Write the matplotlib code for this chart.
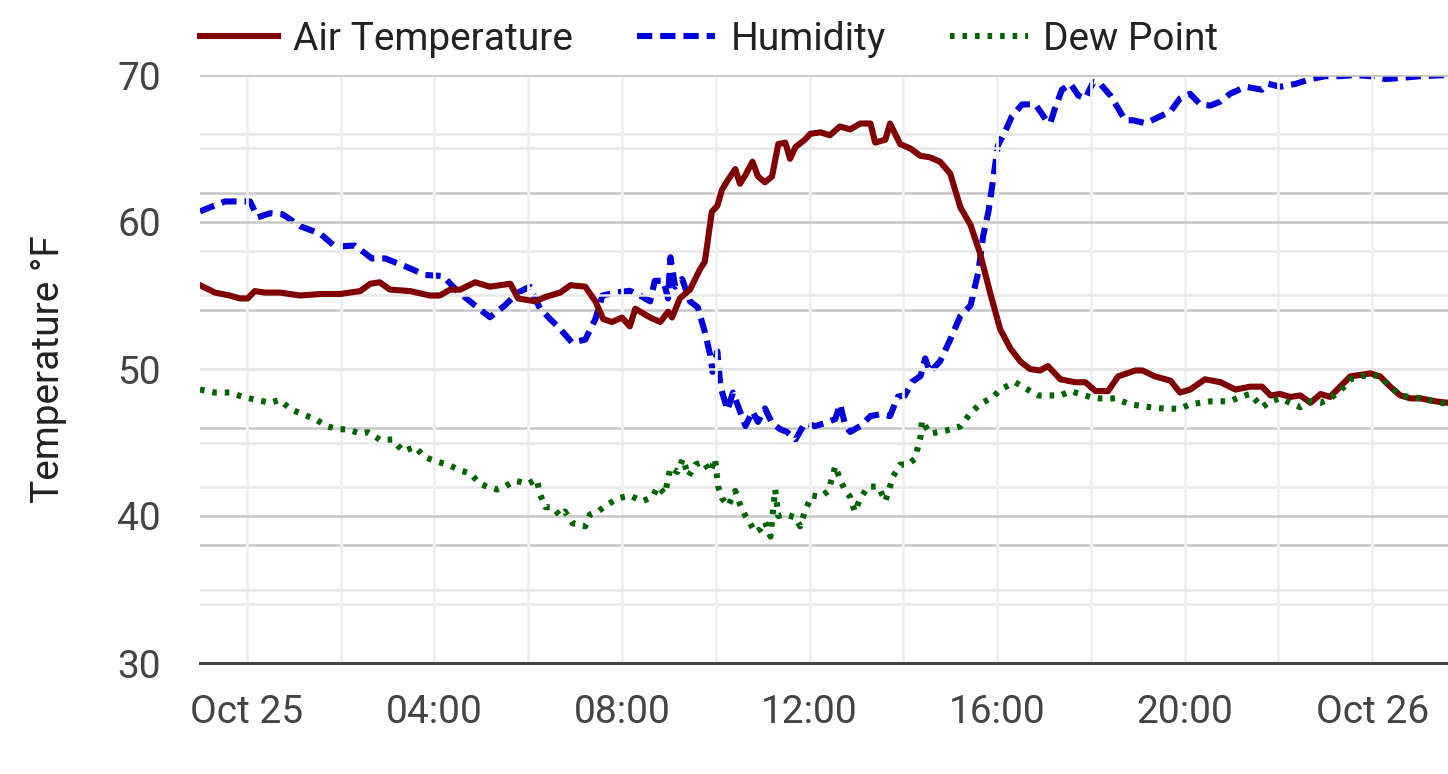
import numpy as np
import matplotlib
matplotlib.use("Agg")
import matplotlib.pyplot as plt
import matplotlib.dates as mdates
from matplotlib.ticker import MultipleLocator, FuncFormatter

plt.rcParams['font.family'] = ['Roboto', 'DejaVu Sans']

START = np.datetime64('2024-10-24T23:00')
END_MIN = 1597

# Air temperature (°F): minutes since start, value
temp_min = [0, 19, 38, 51, 61, 70, 83, 102, 128, 154, 179, 205, 218, 230, 243, 269, 294, 307,
            320, 333, 352, 371, 397, 407, 429, 442, 461, 474, 493, 506, 516, 527, 540, 550,
            557, 576, 589, 599, 604, 614, 627, 640, 646, 655, 662, 668, 676, 685, 691, 698,
            707, 714, 723, 732, 740, 749, 755, 762, 774, 781, 794, 806, 819, 832, 845, 858,
            864, 877, 883, 896, 909, 922, 934, 947, 960, 973, 986, 998, 1011, 1024, 1037,
            1050, 1062, 1075, 1085, 1101, 1120, 1133, 1146, 1162, 1175, 1197, 1206, 1222,
            1242, 1254, 1267, 1286, 1306, 1325, 1344, 1359, 1370, 1382, 1395, 1408, 1421,
            1434, 1446, 1459, 1472, 1485, 1498, 1510, 1523, 1536, 1549, 1562, 1581, 1597]
temp_val = [55.7, 55.2, 55.0, 54.8, 54.8, 55.3, 55.2, 55.2, 55.0, 55.1, 55.1, 55.3, 55.8, 55.9,
            55.4, 55.3, 55.0, 55.0, 55.4, 55.4, 55.9, 55.6, 55.8, 54.8, 54.6, 54.9, 55.2, 55.7,
            55.6, 54.6, 53.4, 53.2, 53.5, 52.9, 54.1, 53.5, 53.2, 53.9, 53.5, 54.8, 55.4, 56.8,
            57.3, 60.7, 61.1, 62.2, 62.9, 63.6, 62.6, 63.2, 64.1, 63.1, 62.7, 63.1, 65.3, 65.4,
            64.3, 65.1, 65.6, 66.0, 66.1, 65.9, 66.5, 66.3, 66.7, 66.7, 65.4, 65.6, 66.7, 65.3,
            65.0, 64.5, 64.4, 64.1, 63.3, 61.0, 59.8, 57.9, 55.2, 52.7, 51.4, 50.5, 50.0, 49.9,
            50.2, 49.3, 49.1, 49.1, 48.5, 48.5, 49.5, 49.9, 49.9, 49.5, 49.2, 48.4, 48.6, 49.3,
            49.1, 48.6, 48.8, 48.8, 48.2, 48.3, 48.1, 48.2, 47.7, 48.3, 48.1, 48.8, 49.5, 49.6,
            49.7, 49.5, 48.8, 48.2, 48.0, 48.0, 47.8, 47.7]

# Relative humidity (%): minutes since start, value
hum_min = [0, 13, 32, 51, 64, 74, 90, 106, 128, 154, 173, 198, 220, 237, 262, 288, 311, 329,
           352, 371, 390, 407, 422, 435, 448, 461, 476, 493, 506, 515, 532, 550, 563, 576, 582,
           593, 599, 602, 608, 617, 627, 637, 646, 653, 656, 662, 666, 675, 682, 691, 698, 707,
           714, 723, 732, 742, 751, 762, 774, 787, 800, 813, 819, 826, 832, 845, 858, 870, 883,
           893, 902, 911, 922, 928, 934, 947, 960, 973, 986, 996, 1002, 1009, 1015, 1021, 1030,
           1039, 1052, 1069, 1082, 1088, 1094, 1103, 1114, 1124, 1133, 1143, 1152, 1165, 1175,
           1184, 1194, 1210, 1226, 1242, 1254, 1267, 1280, 1293, 1306, 1318, 1338, 1359, 1367,
           1382, 1402, 1421, 1440, 1459, 1478, 1498, 1517, 1536, 1562, 1597]
hum_val = [76.8, 77.5, 78.5, 78.5, 78.5, 75.8, 76.5, 76.3, 74.3, 73.0, 70.8, 71.0, 68.8, 68.8,
           67.5, 66.0, 65.8, 63.3, 60.8, 58.8, 60.8, 63.0, 64.0, 60.3, 58.5, 56.8, 54.5, 55.0,
           58.5, 62.5, 63.0, 63.3, 62.5, 61.5, 65.0, 65.0, 62.0, 69.0, 64.0, 65.3, 61.5, 60.5,
           56.3, 52.3, 49.5, 53.0, 47.0, 43.0, 46.0, 42.8, 40.3, 42.8, 41.0, 43.3, 40.8, 39.8,
           39.3, 38.0, 40.8, 40.3, 40.8, 41.5, 44.0, 40.3, 39.3, 40.3, 42.0, 42.3, 42.0, 45.3,
           45.5, 47.8, 48.8, 51.8, 49.5, 51.3, 55.0, 59.0, 60.8, 66.5, 72.5, 76.8, 82.3, 88.0,
           90.3, 93.0, 95.0, 95.0, 92.5, 91.8, 94.3, 97.5, 98.5, 96.5, 96.0, 98.8, 98.5, 96.5,
           94.3, 92.3, 92.3, 91.8, 92.8, 93.8, 96.0, 96.8, 95.0, 94.8, 95.5, 96.8, 98.0, 97.5,
           98.5, 98.0, 98.5, 99.3, 99.8, 99.8, 100.0, 99.8, 99.3, 99.5, 99.8, 100.0]

# Dew point (°F): minutes since start, value
dew_min = [0, 19, 38, 55, 72, 90, 102, 115, 132, 147, 163, 177, 189, 205, 215, 230, 246, 260,
           275, 288, 303, 317, 333, 346, 358, 367, 380, 390, 403, 420, 431, 435, 442, 451, 461,
           467, 477, 493, 499, 509, 522, 535, 550, 566, 579, 586, 595, 602, 611, 618, 625, 634,
           644, 653, 659, 663, 668, 676, 685, 691, 698, 704, 710, 717, 723, 730, 736, 740, 749,
           762, 768, 774, 783, 794, 804, 813, 819, 826, 832, 838, 845, 855, 868, 877, 887, 896,
           906, 915, 922, 924, 934, 954, 973, 986, 998, 1015, 1024, 1043, 1059, 1073, 1101,
           1114, 1126, 1139, 1152, 1171, 1190, 1216, 1235, 1254, 1267, 1293, 1318, 1331, 1344,
           1359, 1370, 1382, 1395, 1408, 1421, 1434, 1446, 1459, 1472, 1485, 1498, 1510, 1523,
           1536, 1562, 1597]
dew_val = [48.6, 48.4, 48.4, 48.1, 47.9, 47.7, 47.9, 47.3, 46.9, 46.6, 46.1, 45.9, 45.9, 45.6,
           45.7, 45.2, 45.2, 44.4, 44.7, 44.0, 43.7, 43.5, 43.1, 42.9, 42.2, 42.0, 41.8, 42.0,
           42.4, 42.2, 42.5, 41.5, 40.6, 40.6, 40.0, 40.3, 39.5, 39.3, 40.1, 40.3, 40.8, 41.2,
           41.4, 41.0, 41.3, 42.0, 41.5, 43.3, 43.0, 43.9, 42.7, 43.5, 43.7, 43.0, 43.9, 42.0,
           41.2, 40.7, 41.7, 40.8, 40.0, 39.5, 38.9, 39.1, 39.6, 38.6, 41.8, 40.0, 40.1, 39.9,
           39.3, 40.3, 41.4, 41.3, 41.7, 43.4, 42.5, 41.7, 41.3, 40.3, 41.2, 42.0, 42.0, 41.0,
           42.7, 43.5, 43.5, 43.9, 45.4, 46.5, 45.6, 45.8, 46.1, 47.0, 47.6, 48.1, 48.6, 49.1,
           48.6, 48.2, 48.2, 48.5, 48.3, 48.1, 48.0, 48.0, 47.6, 47.4, 47.3, 47.3, 47.6, 47.8,
           47.8, 48.1, 48.3, 47.4, 47.8, 48.0, 47.7, 47.4, 47.8, 47.7, 48.0, 48.5, 49.3, 49.5,
           49.6, 49.5, 48.8, 48.2, 48.0, 47.6]

series_labels = ["Air Temperature", "Humidity", "Dew Point"]
temp_ticks = [30, 40, 50, 60, 70]


def to_time(mins):
    return START + np.array(mins).astype('timedelta64[m]')


MED = '#c8c8c8'
LIGHT = '#e8e8e8'
VLIGHT = '#f0f0f0'
LW = 2.2

fig = plt.figure(figsize=(7.24, 3.87), dpi=200)
ax = fig.add_axes([200 / 1448, 1 - 663 / 774, 1248 / 1448, (663 - 75) / 774])
axh = ax.twinx()
ax.set_zorder(2)
axh.set_zorder(1)
ax.patch.set_visible(False)
axh.patch.set_visible(True)
axh.patch.set_facecolor('white')

t_temp = to_time(temp_min)
t_hum = to_time(hum_min)
t_dew = to_time(dew_min)

l1, = ax.plot(t_temp, temp_val, color='#800000', lw=LW, solid_joinstyle='round',
              label=series_labels[0])
l2, = axh.plot(t_hum, hum_val, color='#0000dd', lw=LW, linestyle=(0, (2.5, 1.3)),
               label=series_labels[1])
l3, = ax.plot(t_dew, dew_val, color='#006400', lw=LW, linestyle=(0, (0.75, 1.3)),
              label=series_labels[2])

ax.set_xlim(START, START + np.timedelta64(END_MIN, 'm'))
ax.set_ylim(30, 70)
axh.set_ylim(0, 100)

# y grids
ax.set_yticks(temp_ticks)
ax.yaxis.set_minor_locator(MultipleLocator(5))
ax.grid(True, axis='y', which='major', color=MED, lw=0.9)
ax.grid(True, axis='y', which='minor', color=LIGHT, lw=0.9)
for loc, tk in zip(ax.get_yticks(), ax.yaxis.get_major_ticks()):
    if loc == 50:
        tk.gridline.set_color(LIGHT)

axh.yaxis.set_major_locator(MultipleLocator(20))
axh.yaxis.set_minor_locator(MultipleLocator(10))
axh.grid(True, axis='y', which='major', color=MED, lw=0.9)
axh.grid(True, axis='y', which='minor', color=LIGHT, lw=0.9)
axh.tick_params(axis='y', which='both', length=0, labelright=False)

# x axis
ax.xaxis.set_major_locator(mdates.HourLocator(byhour=range(0, 24, 4)))
ax.xaxis.set_minor_locator(mdates.HourLocator(byhour=range(0, 24, 2)))


def fmt(v, pos):
    d = mdates.num2date(v)
    return d.strftime('%b %d') if d.hour == 0 else d.strftime('%H:%M')


ax.xaxis.set_major_formatter(FuncFormatter(fmt))
ax.grid(True, axis='x', which='both', color=VLIGHT, lw=1.0)

ax.tick_params(axis='both', which='both', length=0, labelsize=14, labelcolor='#444444')
ax.tick_params(axis='y', pad=14)
ax.tick_params(axis='x', pad=11)

for a in (ax, axh):
    for s in ('left', 'right', 'top', 'bottom'):
        a.spines[s].set_visible(False)
ax.spines['bottom'].set_visible(True)
ax.spines['bottom'].set_color('#444444')
ax.spines['bottom'].set_linewidth(1.1)
ax.spines['bottom'].set_zorder(5)

ax.set_ylabel('Temperature °F', fontsize=14, color='#222222', labelpad=18)

fig.legend(handles=[l1, l2, l3], labels=series_labels, loc='center left',
           bbox_to_anchor=(200 / 1448, 1 - 39 / 774), ncol=3, frameon=False,
           fontsize=14, handlelength=2.0, handletextpad=0.4, columnspacing=1.65,
           borderaxespad=0, borderpad=0, labelcolor='#222222')

fig.savefig('out.png', dpi=200, facecolor='white')
